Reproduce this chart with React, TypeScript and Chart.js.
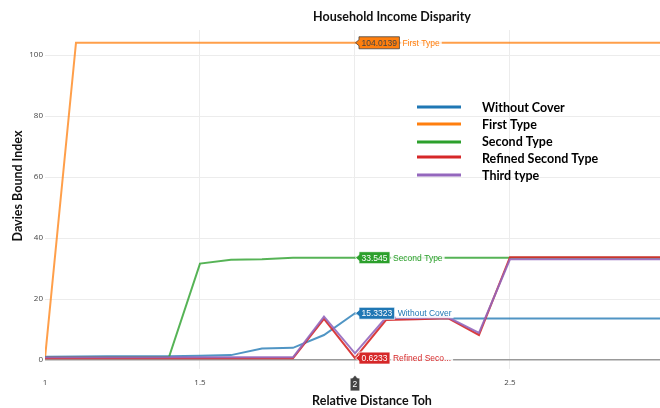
import React, { useEffect, useRef } from "react";
import { Chart, registerables } from "chart.js";

Chart.register(...registerables);

const xValues = [1.0, 1.1, 1.2, 1.3, 1.4, 1.5, 1.6, 1.7, 1.8, 1.9, 2.0, 2.1, 2.2, 2.3, 2.4, 2.5, 2.6, 2.7, 2.8, 2.9, 3.0];
const withoutCover = [1.1, 1.15, 1.2, 1.2, 1.25, 1.4, 1.6, 3.8, 4.0, 8.2, 15.3323, 13.6, 13.6, 13.6, 13.6, 13.6, 13.6, 13.6, 13.6, 13.6, 13.6];
const firstType = [0.6, 104.0139, 104.0139, 104.0139, 104.0139, 104.0139, 104.0139, 104.0139, 104.0139, 104.0139, 104.0139, 104.0139, 104.0139, 104.0139, 104.0139, 104.0139, 104.0139, 104.0139, 104.0139, 104.0139, 104.0139];
const secondType = [1.0, 1.0, 1.0, 1.0, 1.0, 31.6, 32.9, 33.0, 33.5, 33.5, 33.545, 33.545, 33.545, 33.545, 33.545, 33.545, 33.545, 33.545, 33.545, 33.545, 33.545];
const refinedSecondType = [0.6, 0.6, 0.6, 0.6, 0.6, 0.6, 0.6, 0.6, 0.6, 13.5, 0.6233, 13.1, 13.4, 13.7, 8.2, 33.7, 33.7, 33.7, 33.7, 33.7, 33.7];
const thirdType = [0.9, 0.9, 0.9, 0.9, 0.9, 0.9, 0.9, 0.9, 0.9, 14.2, 2.2, 13.9, 13.8, 14.0, 8.9, 33.0, 33.0, 33.0, 33.0, 33.0, 33.0];

const seriesNames = ["Without Cover", "First Type", "Second Type", "Refined Second Type", "Third type"];
const seriesColors = ["#1f77b4", "#ff7f0e", "#2ca02c", "#d62728", "#9467bd"];
const lineColors = ["rgba(31,119,180,0.78)", "rgba(255,127,14,0.75)", "rgba(44,160,44,0.8)", "rgba(214,39,40,0.9)", "rgba(148,103,189,0.9)"];
const seriesValues = [withoutCover, firstType, secondType, refinedSecondType, thirdType];

const yTicks = [0, 20, 40, 60, 80, 100];
const xTicks = [1, 1.5, 2, 2.5];
const hoverX = 2;
const hoverSeries = [1, 2, 0, 3];

const chartTitle = "Household Income Disparity";
const xTitle = "Relative Distance Toh";
const yTitle = "Davies Bound Index";

const TITLE_FONT = "bold 12.5px Lato, 'Open Sans', sans-serif";

function truncName(n: string) {
  return n.length > 15 ? n.slice(0, 12) + "..." : n;
}

function isLight(hex: string) {
  const r = parseInt(hex.slice(1, 3), 16);
  const g = parseInt(hex.slice(3, 5), 16);
  const b = parseInt(hex.slice(5, 7), 16);
  return (r * 299 + g * 587 + b * 114) / 1000 > 128;
}

const overlayPlugin = {
  id: "overlay",
  afterDatasetsDraw(chart: any) {
    const ctx = chart.ctx as CanvasRenderingContext2D;
    const xs = chart.scales.x;
    const ys = chart.scales.y;
    const idx = xValues.indexOf(hoverX);
    const xp = xs.getPixelForValue(hoverX);
    ctx.save();
    hoverSeries.forEach((si) => {
      const v = seriesValues[si][idx];
      const yp = ys.getPixelForValue(v);
      const color = seriesColors[si];
      const light = isLight(color);
      const txtColor = light ? "#444" : "#fff";
      const valText = String(v);
      ctx.font = "8.5px 'Liberation Sans', Arial, sans-serif";
      const tw = ctx.measureText(valText).width;
      const bl = xp + 4;
      const bw = tw + 5;
      const h = 12;
      ctx.beginPath();
      ctx.moveTo(xp + 0.5, yp);
      ctx.lineTo(bl, yp - 3);
      ctx.lineTo(bl, yp - h / 2);
      ctx.lineTo(bl + bw, yp - h / 2);
      ctx.lineTo(bl + bw, yp + h / 2);
      ctx.lineTo(bl, yp + h / 2);
      ctx.lineTo(bl, yp + 3);
      ctx.closePath();
      ctx.fillStyle = color;
      ctx.fill();
      ctx.strokeStyle = txtColor;
      ctx.lineWidth = 0.8;
      ctx.stroke();
      ctx.fillStyle = txtColor;
      ctx.textBaseline = "middle";
      ctx.textAlign = "left";
      ctx.fillText(valText, bl + 2.5, yp + 0.5);
      const name = truncName(seriesNames[si]);
      const nw = ctx.measureText(name).width;
      ctx.fillStyle = "rgba(255,255,255,0.85)";
      ctx.fillRect(bl + bw + 1, yp - 5, nw + 4, 10);
      ctx.fillStyle = color;
      ctx.fillText(name, bl + bw + 3, yp + 0.5);
    });
    {
      const top = chart.chartArea.bottom + 6;
      ctx.font = "8.5px 'Liberation Sans', Arial, sans-serif";
      const t = String(hoverX);
      const tw = ctx.measureText(t).width;
      const bw = tw + 5;
      ctx.beginPath();
      ctx.moveTo(xp, top);
      ctx.lineTo(xp + 2.5, top + 3);
      ctx.lineTo(xp + bw / 2, top + 3);
      ctx.lineTo(xp + bw / 2, top + 16);
      ctx.lineTo(xp - bw / 2, top + 16);
      ctx.lineTo(xp - bw / 2, top + 3);
      ctx.lineTo(xp - 2.5, top + 3);
      ctx.closePath();
      ctx.fillStyle = "#444";
      ctx.fill();
      ctx.strokeStyle = "#fff";
      ctx.lineWidth = 0.8;
      ctx.stroke();
      ctx.fillStyle = "#fff";
      ctx.textAlign = "center";
      ctx.textBaseline = "middle";
      ctx.fillText(t, xp, top + 10);
    }
    ctx.restore();
  },
  afterDraw(chart: any) {
    const ctx = chart.ctx as CanvasRenderingContext2D;
    ctx.save();
    ctx.fillStyle = "#111";
    ctx.font = TITLE_FONT;
    ctx.textAlign = "center";
    ctx.textBaseline = "middle";
    ctx.fillText(chartTitle, 392, 17);
    ctx.fillText(xTitle, 372, 401);
    ctx.save();
    ctx.translate(18, 186);
    ctx.rotate(-Math.PI / 2);
    ctx.fillText(yTitle, 0, 0);
    ctx.restore();
    const sampleY = [107, 124, 142, 157, 175];
    const textY = [108, 125, 142, 159, 176];
    seriesNames.forEach((n, i) => {
      ctx.strokeStyle = seriesColors[i];
      ctx.lineWidth = 3;
      ctx.beginPath();
      ctx.moveTo(417, sampleY[i]);
      ctx.lineTo(461, sampleY[i]);
      ctx.stroke();
      ctx.fillStyle = "#000";
      ctx.font = "bold 12.5px Lato, 'Open Sans', sans-serif";
      ctx.textAlign = "left";
      ctx.textBaseline = "middle";
      ctx.fillText(n, 482, textY[i]);
    });
    ctx.restore();
  },
};

export default function App() {
  const ref = useRef<HTMLCanvasElement>(null);
  useEffect(() => {
    if (!ref.current) return;
    const datasets = seriesNames.map((name, i) => ({
      label: name,
      data: xValues.map((x, j) => ({ x, y: seriesValues[i][j] })),
      borderColor: lineColors[i],
      backgroundColor: lineColors[i],
      borderWidth: 2,
      pointRadius: 0,
      tension: 0,
      fill: false,
      order: seriesNames.length - i,
    }));
    const chart = new Chart(ref.current, {
      type: "line",
      data: { datasets },
      plugins: [overlayPlugin],
      options: {
        animation: false,
        responsive: false,
        devicePixelRatio: 1,
        layout: { padding: { top: 30, right: 0, left: 0, bottom: 0 } },
        plugins: { legend: { display: false }, tooltip: { enabled: false }, title: { display: false } },
        scales: {
          x: {
            type: "linear",
            min: 1,
            max: 2.984,
            afterBuildTicks: (s: any) => {
              s.ticks = xTicks.map((v) => ({ value: v }));
            },
            afterFit: (s: any) => {
              s.height = 39;
            },
            border: { display: false },
            grid: {
              drawTicks: false,
              color: (c: any) => (c.tick && c.tick.value === 1 ? "rgba(0,0,0,0)" : "#ececec"),
              lineWidth: 1,
            },
            ticks: {
              padding: 9,
              maxRotation: 0,
              autoSkip: false,
              color: "#444",
              font: { family: "'Open Sans', sans-serif", size: 8 },
              callback: (v: any) => String(v),
            },
          },
          y: {
            type: "linear",
            min: -2.95,
            max: 108.2,
            afterBuildTicks: (s: any) => {
              s.ticks = yTicks.map((v) => ({ value: v }));
            },
            afterFit: (s: any) => {
              s.width = 45;
            },
            border: { display: false },
            grid: {
              drawTicks: false,
              color: (c: any) => (c.tick && c.tick.value === 0 ? "#999" : "#ececec"),
              lineWidth: (c: any) => (c.tick && c.tick.value === 0 ? 1.5 : 1),
            },
            ticks: {
              padding: 2,
              color: "#444",
              font: { family: "'Open Sans', sans-serif", size: 8 },
              callback: (v: any) => String(v),
            },
          },
        },
      },
    });
    return () => chart.destroy();
  }, []);
  return (
    <div style={{ position: "fixed", left: 0, top: 0, width: 660, height: 408, background: "#fff" }}>
      <canvas ref={ref} width={660} height={408} style={{ width: 660, height: 408, display: "block" }} />
    </div>
  );
}
